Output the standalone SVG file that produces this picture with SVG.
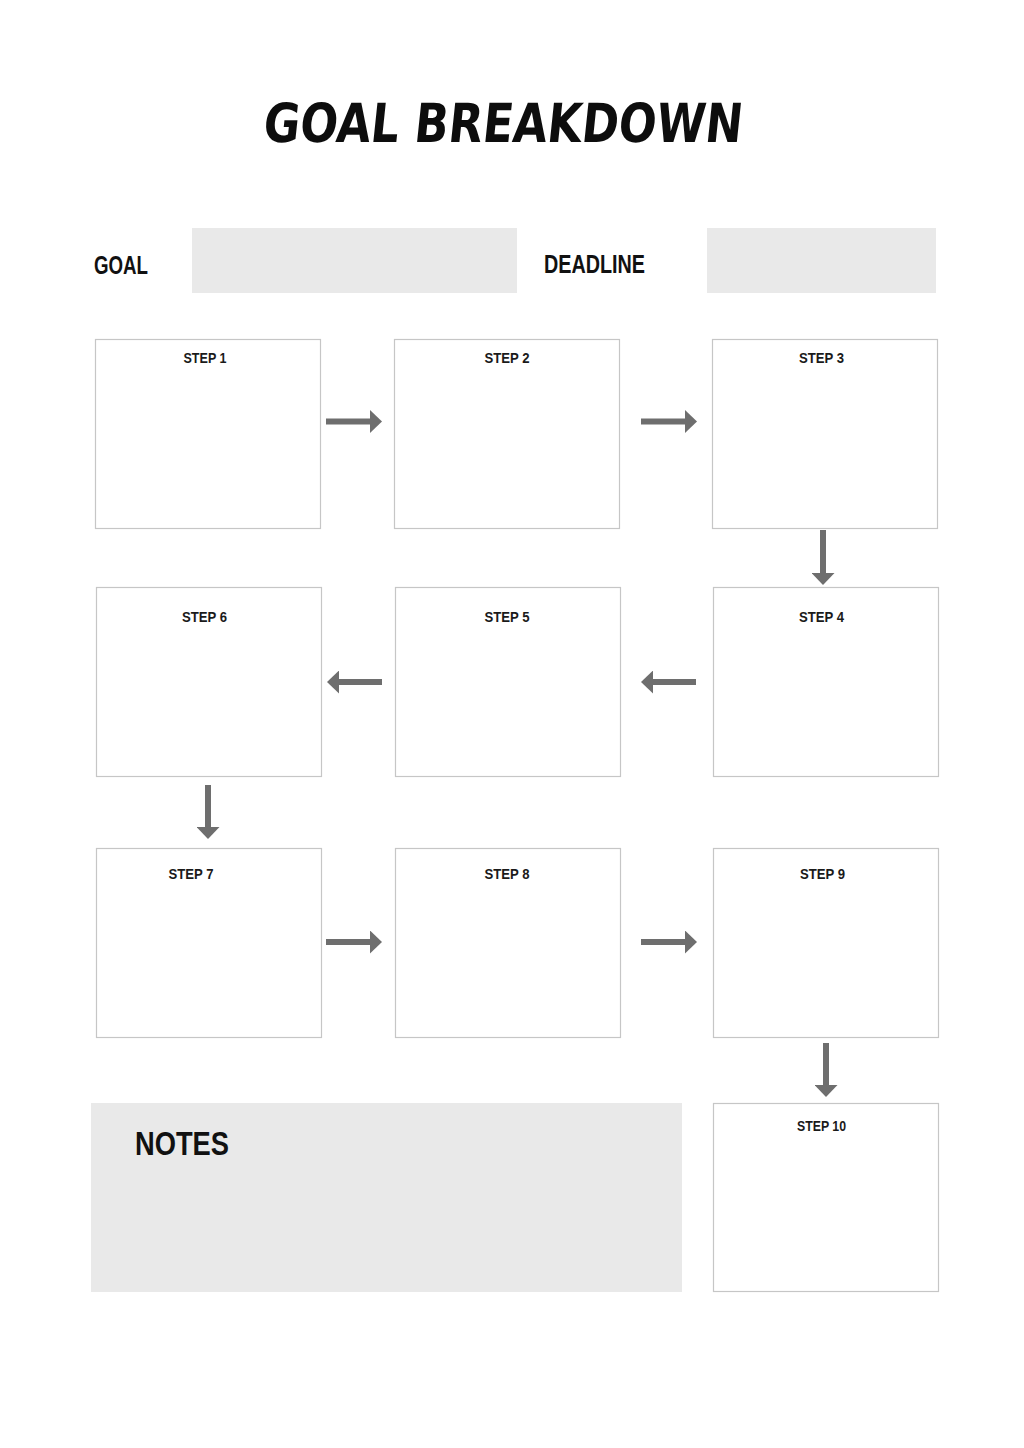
<svg xmlns="http://www.w3.org/2000/svg" width="1024" height="1448" viewBox="0 0 1024 1448">
<style>
.box{fill:#ffffff;stroke:#c6c6c6;stroke-width:1.2}
.fillbox{fill:#e9e9e9}
.step{font-family:"Liberation Sans","DejaVu Sans",sans-serif;font-weight:bold;font-size:15px;fill:#1a1a1a;text-anchor:middle}
.lbl{font-family:"Liberation Sans","DejaVu Sans",sans-serif;font-weight:bold;fill:#111111}
.title{font-family:"DejaVu Sans","Liberation Sans",sans-serif;font-weight:bold;font-size:54px;fill:#0d0d0d}
.conn{stroke:#6e6e6e;stroke-width:6;fill:none;marker-end:url(#ah)}
</style>
<defs>
<marker id="ah" markerUnits="userSpaceOnUse" markerWidth="12" markerHeight="23" refX="0" refY="11.5" orient="auto" viewBox="0 0 12 23">
<path d="M0,0 L12,11.5 L0,23 Z" fill="#6e6e6e"/>
</marker>
</defs>
<rect x="0" y="0" width="1024" height="1448" fill="#ffffff"/>
<g id="title">
<text class="title" x="262" y="142" textLength="479" lengthAdjust="spacingAndGlyphs" transform="translate(0,142) skewX(-6) translate(0,-142)">GOAL BREAKDOWN</text>
</g>
<g id="goal">
<text class="lbl" x="94" y="274" font-size="25" textLength="54" lengthAdjust="spacingAndGlyphs">GOAL</text>
<rect class="fillbox" x="192" y="228" width="325" height="65"/>
</g>
<g id="deadline">
<text class="lbl" x="544" y="273" font-size="25" textLength="101" lengthAdjust="spacingAndGlyphs">DEADLINE</text>
<rect class="fillbox" x="707" y="228" width="229" height="65"/>
</g>
<g id="step1"><rect class="box" x="95.5" y="339.5" width="225" height="189"/><text class="step" x="205" y="363" textLength="43" lengthAdjust="spacingAndGlyphs">STEP 1</text></g>
<g id="step2"><rect class="box" x="394.5" y="339.5" width="225" height="189"/><text class="step" x="507" y="363" textLength="45" lengthAdjust="spacingAndGlyphs">STEP 2</text></g>
<g id="step3"><rect class="box" x="712.5" y="339.5" width="225" height="189"/><text class="step" x="821.5" y="363" textLength="45" lengthAdjust="spacingAndGlyphs">STEP 3</text></g>
<g id="step4"><rect class="box" x="713.5" y="587.5" width="225" height="189"/><text class="step" x="821.5" y="622" textLength="45" lengthAdjust="spacingAndGlyphs">STEP 4</text></g>
<g id="step5"><rect class="box" x="395.5" y="587.5" width="225" height="189"/><text class="step" x="507" y="622" textLength="45" lengthAdjust="spacingAndGlyphs">STEP 5</text></g>
<g id="step6"><rect class="box" x="96.5" y="587.5" width="225" height="189"/><text class="step" x="204.5" y="622" textLength="45" lengthAdjust="spacingAndGlyphs">STEP 6</text></g>
<g id="step7"><rect class="box" x="96.5" y="848.5" width="225" height="189"/><text class="step" x="191" y="879" textLength="45" lengthAdjust="spacingAndGlyphs">STEP 7</text></g>
<g id="step8"><rect class="box" x="395.5" y="848.5" width="225" height="189"/><text class="step" x="507" y="879" textLength="45" lengthAdjust="spacingAndGlyphs">STEP 8</text></g>
<g id="step9"><rect class="box" x="713.5" y="848.5" width="225" height="189"/><text class="step" x="822.5" y="879" textLength="45" lengthAdjust="spacingAndGlyphs">STEP 9</text></g>
<g id="step10"><rect class="box" x="713.5" y="1103.5" width="225" height="188"/><text class="step" x="821.5" y="1131" textLength="49" lengthAdjust="spacingAndGlyphs">STEP 10</text></g>
<g id="notes">
<rect class="fillbox" x="91" y="1103" width="591" height="189"/>
<text class="lbl" x="135" y="1155" font-size="33" textLength="94" lengthAdjust="spacingAndGlyphs">NOTES</text>
</g>
<g id="connectors">
<line class="conn" x1="326" y1="421.5" x2="370" y2="421.5"/>
<line class="conn" x1="641" y1="421.5" x2="685" y2="421.5"/>
<line class="conn" x1="823" y1="530" x2="823" y2="573"/>
<line class="conn" x1="696" y1="682" x2="653" y2="682"/>
<line class="conn" x1="382" y1="682" x2="339" y2="682"/>
<line class="conn" x1="208" y1="785" x2="208" y2="827"/>
<line class="conn" x1="326" y1="942" x2="370" y2="942"/>
<line class="conn" x1="641" y1="942" x2="685" y2="942"/>
<line class="conn" x1="826" y1="1043" x2="826" y2="1085"/>
</g>
</svg>
